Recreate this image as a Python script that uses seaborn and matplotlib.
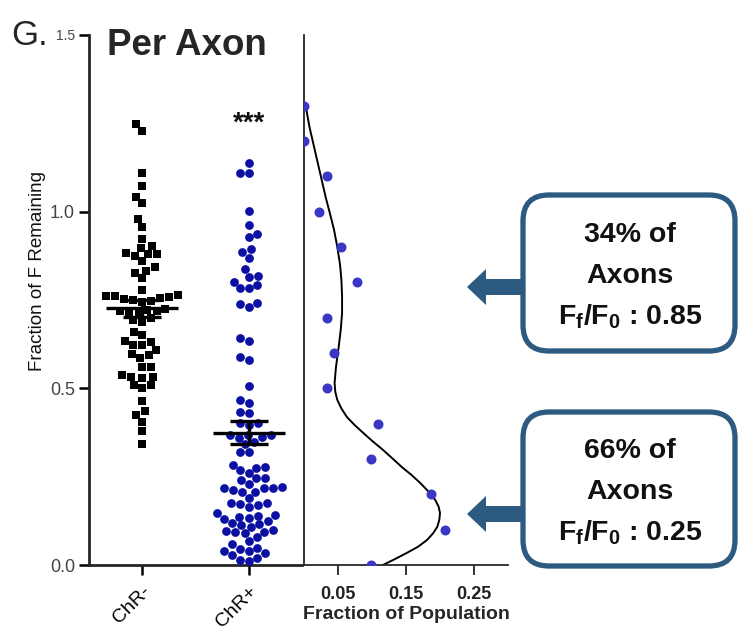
import numpy as np
import pandas as pd
import matplotlib
matplotlib.use("Agg")
import matplotlib.pyplot as plt
import seaborn as sns
from matplotlib.patches import FancyBboxPatch, FancyArrow

# ---------------- data ----------------
groups = ["ChR-", "ChR+"]
chr_neg = [1.247, 1.229, 1.110, 1.073, 1.042, 1.025, 0.978, 0.956, 0.922, 0.903,
           0.897, 0.882, 0.880, 0.875, 0.880, 0.861, 0.843, 0.826, 0.833, 0.811,
           0.778, 0.765, 0.760, 0.755, 0.750, 0.762, 0.748, 0.745, 0.758, 0.752,
           0.725, 0.720, 0.718, 0.722, 0.715, 0.699, 0.689, 0.693, 0.712, 0.660,
           0.651, 0.630, 0.623, 0.634, 0.623, 0.608, 0.594, 0.596, 0.585, 0.561,
           0.561, 0.533, 0.528, 0.538, 0.533, 0.500, 0.509, 0.509, 0.464, 0.436,
           0.425, 0.406, 0.380, 0.342]
chr_pos = [1.137, 1.109, 1.109, 1.003, 0.962, 0.937, 0.929, 0.894, 0.887, 0.870,
           0.838, 0.816, 0.819, 0.802, 0.793, 0.783, 0.783, 0.738, 0.731, 0.741,
           0.634, 0.642, 0.588, 0.581, 0.508, 0.467, 0.458, 0.432, 0.429, 0.401,
           0.396, 0.401, 0.368, 0.359, 0.368, 0.363, 0.368, 0.349, 0.342, 0.319,
           0.321, 0.274, 0.260, 0.283, 0.269, 0.278, 0.241, 0.245, 0.245, 0.222,
           0.217, 0.219, 0.207, 0.212, 0.217, 0.207, 0.175, 0.165, 0.175, 0.172,
           0.170, 0.230, 0.190, 0.137, 0.142, 0.134, 0.146, 0.140, 0.130, 0.118,
           0.108, 0.113, 0.115, 0.099, 0.093, 0.096, 0.090, 0.094, 0.068, 0.125,
           0.080, 0.060, 0.047, 0.040, 0.040, 0.045, 0.033, 0.019, 0.011, 0.014,
           0.028]

hist_bins = [0.0, 0.1, 0.2, 0.3, 0.4, 0.5, 0.6, 0.7, 0.8, 0.9, 1.0, 1.1, 1.2, 1.3]
hist_frac = [0.099, 0.207, 0.187, 0.099, 0.109, 0.034, 0.044, 0.034, 0.078, 0.054,
             0.022, 0.034, 0.0, 0.0]

fit_y = [1.294, 1.24, 1.19, 1.14, 1.09, 1.04, 0.996, 0.95, 0.900, 0.85, 0.807,
         0.76, 0.713, 0.665, 0.617, 0.56, 0.515, 0.49, 0.467, 0.443, 0.419, 0.397,
         0.374, 0.35, 0.326, 0.30, 0.277, 0.255, 0.232, 0.208, 0.184, 0.165, 0.147,
         0.128, 0.108, 0.09, 0.071, 0.052, 0.034, 0.017, 0.0]
fit_x = [0.003, 0.008, 0.014, 0.020, 0.026, 0.032, 0.038, 0.044, 0.049, 0.053,
         0.055, 0.056, 0.056, 0.054, 0.051, 0.047, 0.045, 0.046, 0.049, 0.055,
         0.063, 0.074, 0.087, 0.101, 0.116, 0.131, 0.144, 0.158, 0.171, 0.183,
         0.193, 0.198, 0.200, 0.199, 0.196, 0.190, 0.181, 0.168, 0.151, 0.134, 0.116]

y_ticks = [0.0, 0.5, 1.0, 1.5]
y_ticklabels = ["0.0", "0.5", "1.0", "1.5"]
frac_ticks = [0.05, 0.15, 0.25]
frac_ticklabels = ["0.05", "0.15", "0.25"]

box_texts = [["34% of", "Axons", r"$\mathbf{F_f/F_0}$ : 0.85"],
             ["66% of", "Axons", r"$\mathbf{F_f/F_0}$ : 0.25"]]

# ---------------- style ----------------
sns.set_style("ticks")
plt.rcParams["font.family"] = ["Liberation Sans", "DejaVu Sans"]
plt.rcParams["mathtext.fontset"] = "custom"
plt.rcParams["mathtext.rm"] = "Liberation Sans"
plt.rcParams["mathtext.bf"] = "Liberation Sans:bold"
plt.rcParams["mathtext.it"] = "Liberation Sans:italic"

W, H = 738, 634
fig = plt.figure(figsize=(W / 100, H / 100), dpi=100)
fig.patch.set_facecolor("white")


def fx(px):
    return px / W


def fy(py):
    return 1 - py / H


# ---------------- left panel ----------------
ax = fig.add_axes([fx(89), fy(565), (302 - 89) / W, (565 - 35) / H])
df_neg = pd.DataFrame({"group": "ChR-", "value": chr_neg})
df_pos = pd.DataFrame({"group": "ChR+", "value": chr_pos})
sns.swarmplot(data=df_neg, x="group", y="value", order=groups, marker="s",
              color="black", size=6.3, linewidth=0, ax=ax)
sns.swarmplot(data=df_pos, x="group", y="value", order=groups, marker="o",
              color="#0b10a3", size=6.3, linewidth=0, ax=ax)
for coll in ax.collections:
    coll.set_clip_on(False)

for i, vals in enumerate([chr_neg, chr_pos]):
    v = np.asarray(vals)
    m = v.mean()
    se = v.std(ddof=1) / np.sqrt(len(v))
    ax.hlines(m, i - 0.34, i + 0.34, color="black", lw=2.4, zorder=6)
    ax.hlines([m - se, m + se], i - 0.18, i + 0.18, color="black", lw=2.4, zorder=6)
    ax.vlines(i, m - se, m + se, color="black", lw=2.4, zorder=6)

ax.text(1, 1.228, "***", ha="center", va="baseline", fontsize=20,
        fontweight="bold", color="#111111")

ax.set_xlim(-0.5, 1.5)
ax.set_ylim(0, 1.5)
ax.set_yticks(y_ticks)
ax.set_yticklabels(y_ticklabels, color="#444444", fontsize=13)
ax.get_yticklabels()[-1].set_fontsize(10)
ax.set_xticks([0, 1])
ax.set_xticklabels(groups, rotation=45, ha="right", rotation_mode="anchor",
                   fontsize=14, color="black")
ax.set_xlabel("")
ax.set_ylabel("")
ax.tick_params(axis="both", direction="out", length=7, width=1.8, colors="black",
               labelcolor="black")
ax.tick_params(axis="y", labelcolor="#444444", pad=3)
ax.tick_params(axis="x", pad=6)
for s in ["top", "right"]:
    ax.spines[s].set_visible(False)
for s in ["left", "bottom"]:
    ax.spines[s].set_linewidth(2.0)
ax.set_facecolor("none")

# ---------------- right panel ----------------
ax2 = fig.add_axes([fx(304), fy(565), (508 - 304) / W, (565 - 35) / H])
sns.lineplot(x=fit_x, y=fit_y, sort=False, estimator=None, color="black", lw=1.4,
             ax=ax2, zorder=2)
sns.scatterplot(x=hist_frac, y=hist_bins, color="#3a37c6", s=52, linewidth=0,
                ax=ax2, zorder=3)
ax2.set_xlim(0, 0.3)
ax2.set_ylim(0, 1.5)
ax2.set_xticks(frac_ticks)
ax2.set_xticklabels(frac_ticklabels, fontsize=13, fontweight="bold", color="#222222")
ax2.set_yticks([])
ax2.tick_params(axis="x", direction="out", length=7, width=1.3, pad=8)
ax2.set_xlabel("Fraction of Population", fontsize=14, fontweight="bold", labelpad=2)
ax2.set_ylabel("")
for s in ["top", "right"]:
    ax2.spines[s].set_visible(False)
for s in ["left", "bottom"]:
    ax2.spines[s].set_linewidth(1.3)
ax2.set_facecolor("none")

# ---------------- texts ----------------
fig.text(fx(11), fy(45), "G.", fontsize=25, va="baseline", ha="left")
fig.text(fx(107), fy(55), "Per Axon", fontsize=26.5, fontweight="bold",
         va="baseline", ha="left")
fig.text(fx(38), fy(271), "Fraction of F Remaining", rotation=90, fontsize=13.5,
         ha="center", va="center", color="#111111")

# ---------------- annotation boxes & arrows ----------------
ov = fig.add_axes([0, 0, 1, 1])
ov.set_xlim(0, W)
ov.set_ylim(H, 0)
ov.axis("off")
ov.set_facecolor("none")

edge = "#2c5a80"
box_tops = [195, 412]
box_h = [156, 154]
arrow_y = [287, 514]
for k in range(2):
    ov.add_patch(FancyBboxPatch((523, box_tops[k]), 212, box_h[k],
                                boxstyle="round,pad=0,rounding_size=26",
                                fc="white", ec=edge, lw=3.8))
    ov.add_patch(FancyArrow(521, arrow_y[k], -54, 0, width=16, head_width=36,
                            head_length=19, length_includes_head=True,
                            color=edge, lw=0))
    cy = box_tops[k] + box_h[k] / 2 + 3
    for j, t in enumerate(box_texts[k]):
        ov.text(630, cy + (j - 1) * 41, t, ha="center", va="center",
                fontsize=20.5, fontweight="bold", color="#111111")

fig.savefig("out.png", dpi=100, facecolor="white")
